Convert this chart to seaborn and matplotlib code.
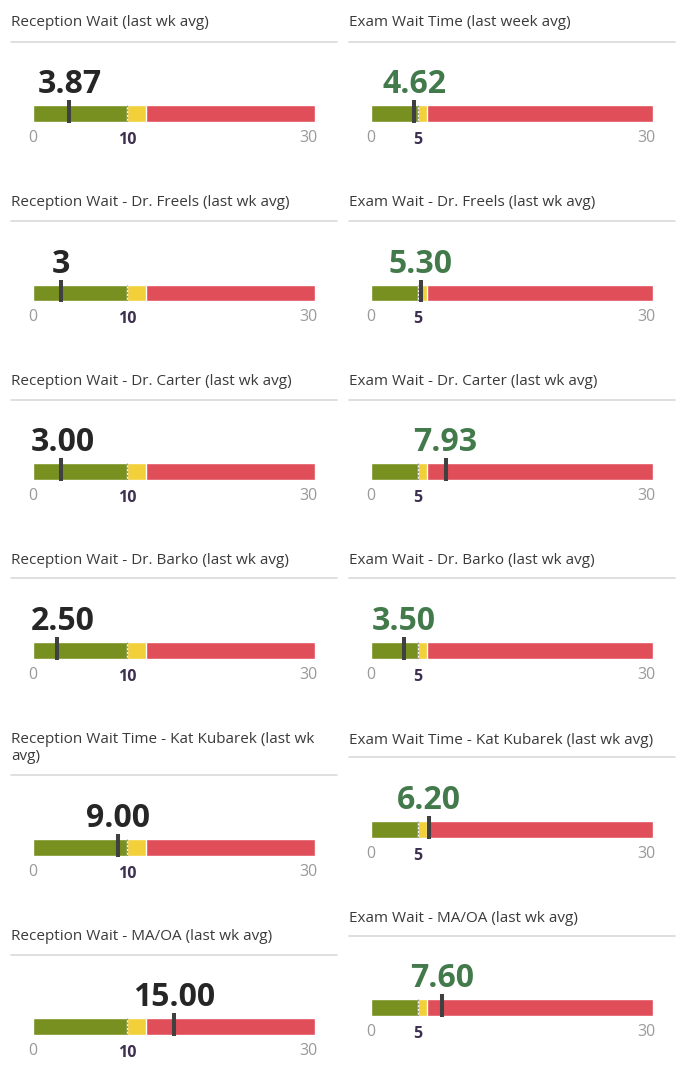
import matplotlib
matplotlib.use("Agg")
import matplotlib.pyplot as plt
import matplotlib.transforms as mtransforms
import seaborn as sns
import pandas as pd

sns.set_theme(style="white")
plt.rcParams["font.family"] = ["Open Sans", "DejaVu Sans"]

# ---------------- data ----------------
left_titles = [
    "Reception Wait (last wk avg)",
    "Reception Wait - Dr. Freels (last wk avg)",
    "Reception Wait - Dr. Carter (last wk avg)",
    "Reception Wait - Dr. Barko (last wk avg)",
    "Reception Wait Time - Kat Kubarek (last wk\navg)",
    "Reception Wait - MA/OA (last wk avg)",
]
left_values = [3.87, 3.0, 3.0, 2.5, 9.0, 15.0]
left_labels = ["3.87", "3", "3.00", "2.50", "9.00", "15.00"]
left_zone_ends = [30, 12, 10]          # red, yellow, green
left_ticks = [0, 10, 30]
left_tick_labels = ["0", "10", "30"]

right_titles = [
    "Exam Wait Time (last week avg)",
    "Exam Wait - Dr. Freels (last wk avg)",
    "Exam Wait - Dr. Carter (last wk avg)",
    "Exam Wait - Dr. Barko (last wk avg)",
    "Exam Wait Time - Kat Kubarek (last wk avg)",
    "Exam Wait - MA/OA (last wk avg)",
]
right_values = [4.62, 5.30, 7.93, 3.50, 6.20, 7.60]
right_labels = ["4.62", "5.30", "7.93", "3.50", "6.20", "7.60"]
right_zone_ends = [30, 6, 5]
right_ticks = [0, 5, 30]
right_tick_labels = ["0", "5", "30"]

zone_names = ["red", "yellow", "green"]
zone_colors = {"red": "#e04e5a", "yellow": "#f2d03a", "green": "#77901f"}

# ---------------- layout (pixels) ----------------
W, H = 688, 1080
fig = plt.figure(figsize=(W / 100, H / 100), dpi=100)
fig.patch.set_facecolor("white")

def fx(x):
    return x / W

def fy(y):
    return 1 - y / H

# (title_center_y, separator_y, bar_top, bar_bottom)
left_rows = [(23, 42, 105, 122), (203, 221, 285, 301), (382, 400, 463, 480),
             (561, 578, 642, 659), (748, 775, 839, 856), (936, 955, 1018, 1035)]
right_rows = [(23, 42, 105, 122), (203, 221, 285, 301), (382, 400, 463, 480),
              (561, 578, 642, 659), (740, 757, 821, 838), (918, 936, 999, 1016)]

columns = [
    dict(x0=33, x1=315, tx=11, sx0=11, sx1=337, rows=left_rows, titles=left_titles,
         values=left_values, labels=left_labels, ends=left_zone_ends,
         ticks=left_ticks, tick_labels=left_tick_labels, vcolor="#262626"),
    dict(x0=371, x1=653, tx=349, sx0=349, sx1=675, rows=right_rows, titles=right_titles,
         values=right_values, labels=right_labels, ends=right_zone_ends,
         ticks=right_ticks, tick_labels=right_tick_labels, vcolor="#437a4b"),
]

annots = []
for col in columns:
    for i, (ty, sy, bt, bb) in enumerate(col["rows"]):
        # title
        fig.text(fx(col["tx"]), fy(ty), col["titles"][i], fontsize=11,
                 color="#3a3a3a", va="center", ha="left", linespacing=1.15)
        # separator
        fig.add_artist(plt.Line2D([fx(col["sx0"]), fx(col["sx1"])], [fy(sy), fy(sy)],
                                  color="#d9d9d9", lw=1.2))
        # gauge axes
        ax = fig.add_axes([fx(col["x0"]), fy(bb), fx(col["x1"] - col["x0"]), (bb - bt) / H])
        seg = pd.DataFrame({"end": col["ends"], "zone": zone_names, "row": ["g"] * 3})
        sns.barplot(data=seg, x="end", y="row", hue="zone", hue_order=zone_names,
                    palette=zone_colors, dodge=False, width=1.0, errorbar=None,
                    saturation=1, legend=False, orient="h", ax=ax)
        ax.set_xlim(0, col["ticks"][-1])
        ax.set_ylim(-0.5, 0.5)
        for s in ax.spines.values():
            s.set_visible(False)
        ax.set_xlabel("")
        ax.set_ylabel("")
        ax.set_yticks([])
        ax.set_facecolor("none")
        # threshold dotted line
        mid = col["ticks"][1]
        ax.plot([mid, mid], [-0.5, 0.5], color="#3a3a3a", lw=0.9, ls=(0, (1.5, 1.5)),
                alpha=0.55)
        # marker
        v = col["values"][i]
        ax.plot([v, v], [-0.56, 0.8], color="#404040", lw=2.9, solid_capstyle="butt",
                clip_on=False, zorder=5)
        # ticks
        ax.set_xticks(col["ticks"])
        ax.set_xticklabels(col["tick_labels"])
        ax.tick_params(axis="x", length=0, pad=6)
        labs = ax.get_xticklabels()
        for j, lab in enumerate(labs):
            if j == 1:
                lab.set_color("#3d2f4f")
                lab.set_fontweight("bold")
                lab.set_fontsize(11.5)
                lab.set_transform(lab.get_transform() + mtransforms.ScaledTranslation(
                    0, -1.5 / 72, fig.dpi_scale_trans))
            else:
                lab.set_color("#9a9a9a")
                lab.set_fontsize(11.5)
        labs[-1].set_horizontalalignment("right")
        labs[-1].set_transform(labs[-1].get_transform() + mtransforms.ScaledTranslation(
            3 / 100, 0, fig.dpi_scale_trans))
        # value text
        an = ax.annotate(col["labels"][i], xy=(v, 0.5), xytext=(0, 8.5),
                         textcoords="offset points", ha="center", va="baseline",
                         fontsize=23, fontweight="bold", color=col["vcolor"],
                         annotation_clip=False)
        annots.append((an, ax))

# keep value labels from running past the left edge of the bar
fig.canvas.draw()
r = fig.canvas.get_renderer()
for an, ax in annots:
    bbx = an.get_window_extent(r)
    axl = ax.get_window_extent(r).x0
    if bbx.x0 < axl - 2:
        shift_px = (axl - 2) - bbx.x0
        an.xyann = (shift_px * 72 / fig.dpi, an.xyann[1])

fig.savefig("out.png", dpi=100, facecolor="white")
